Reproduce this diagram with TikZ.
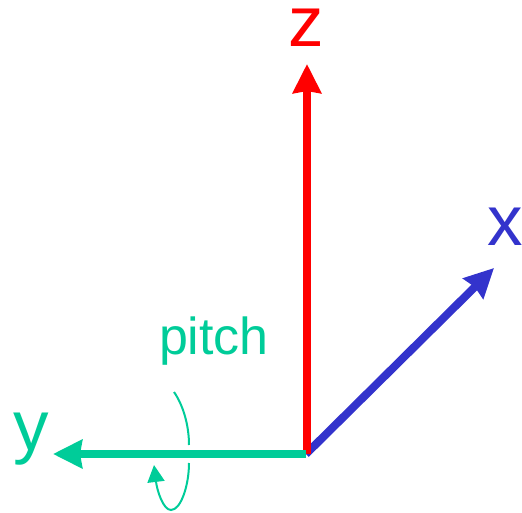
\documentclass[tikz,border=0pt]{standalone}
\usepackage{fontspec}
\setmainfont{Liberation Sans}
\usetikzlibrary{arrows.meta}
\definecolor{axisred}{RGB}{255,0,0}
\definecolor{axisblue}{RGB}{51,51,204}
\definecolor{axisgreen}{RGB}{0,204,153}
\tikzset{
  axisline/.style={line width=8pt,-{Stealth[length=29pt,width=28pt,inset=2pt]}},
  turnline/.style={line width=2pt,axisgreen},
  lab/.style={inner sep=0pt,anchor=base,font=\fontsize{71}{71}\selectfont},
}
\begin{document}
\begin{tikzpicture}[x=1pt,y=-1pt]
\useasboundingbox (0,0) rectangle (522,513);
\coordinate (o) at (306,454);
\coordinate (xtip) at (494,268);
\coordinate (ztip) at (307,64);
\coordinate (ytip) at (53,454);
\coordinate (oz) at (307,454);
\coordinate (a1) at (174,392);
\coordinate (a2) at (189,445);
\coordinate (a3) at (189,463);
\coordinate (a4) at (171,510);
\coordinate (a5) at (154,465);
\draw[axisline,axisblue] (o) -- (xtip);
\draw[axisline,axisred] (oz) -- (ztip);
\draw[axisline,axisgreen] (o) -- (ytip);
\draw[turnline] (a1) .. controls (183,405) and (189,425) .. (a2);
\draw[turnline,-{Triangle[length=17pt,width=17pt]}] (a3) .. controls (189,485) and (181,510) .. (a4) .. controls (163,510) and (157,490) .. (a5);
\node[lab,text=axisred] (zl) at (306,47) {z};
\node[lab,text=axisblue] (xl) at (505.5,246) {x};
\node[lab,text=axisgreen] (yl) at (31,450) {y};
\node[inner sep=0pt,anchor=base,font=\fontsize{52}{52}\selectfont,text=axisgreen] (pl) at (214,354) {pitch};
\end{tikzpicture}
\end{document}
